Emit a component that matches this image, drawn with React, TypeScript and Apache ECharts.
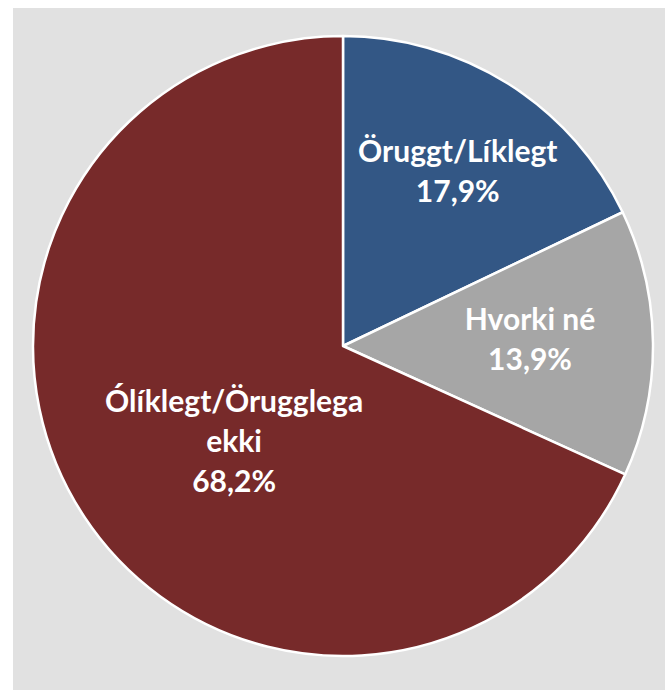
import React, { useEffect, useRef } from "react";
import * as echarts from "echarts";

const categories = ["Öruggt/Líklegt", "Hvorki né", "Ólíklegt/Örugglega\nekki"];
const shares = [17.9, 13.9, 68.2];
const colors = ["#335785", "#a6a6a6", "#772a2a"];

const CX = 330;
const CY = 338;
const R = 310;
const labelOffsets = [
  [14, -16],
  [-2, -6],
  [50, -8],
];

export default function App() {
  const ref = useRef<HTMLDivElement>(null);
  useEffect(() => {
    if (!ref.current) return;
    const chart = echarts.init(ref.current, null, { renderer: "svg" });
    const data = categories.map((name, i) => ({
      name,
      value: shares[i],
      itemStyle: { color: colors[i] },
    }));
    const labelData = categories.map((name, i) => ({
      name,
      value: shares[i],
      label: { offset: labelOffsets[i] },
    }));
    chart.setOption({
      animation: false,
      backgroundColor: "#e1e1e1",
      series: [
        {
          type: "pie",
          center: [CX, CY],
          radius: [0, R],
          startAngle: 90,
          clockwise: true,
          silent: true,
          label: { show: false },
          labelLine: { show: false },
          itemStyle: { borderColor: "#ffffff", borderWidth: 2.5 },
          data,
        },
        {
          type: "pie",
          center: [CX, CY],
          radius: [R * 0.2, R],
          startAngle: 90,
          clockwise: true,
          silent: true,
          z: 5,
          itemStyle: { color: "transparent", borderWidth: 0 },
          labelLine: { show: false },
          label: {
            show: true,
            position: "inside",
            color: "#ffffff",
            fontFamily: "Lato",
            fontWeight: "bold",
            fontSize: 30,
            lineHeight: 40,
            align: "center",
            formatter: (p: any) =>
              `${p.name}\n${String(p.value).replace(".", ",")}%`,
          },
          data: labelData,
        },
      ],
    });
    return () => chart.dispose();
  }, []);
  return (
    <div
      ref={ref}
      style={{ position: "fixed", left: 13, top: 8, width: 652, height: 682 }}
    />
  );
}
